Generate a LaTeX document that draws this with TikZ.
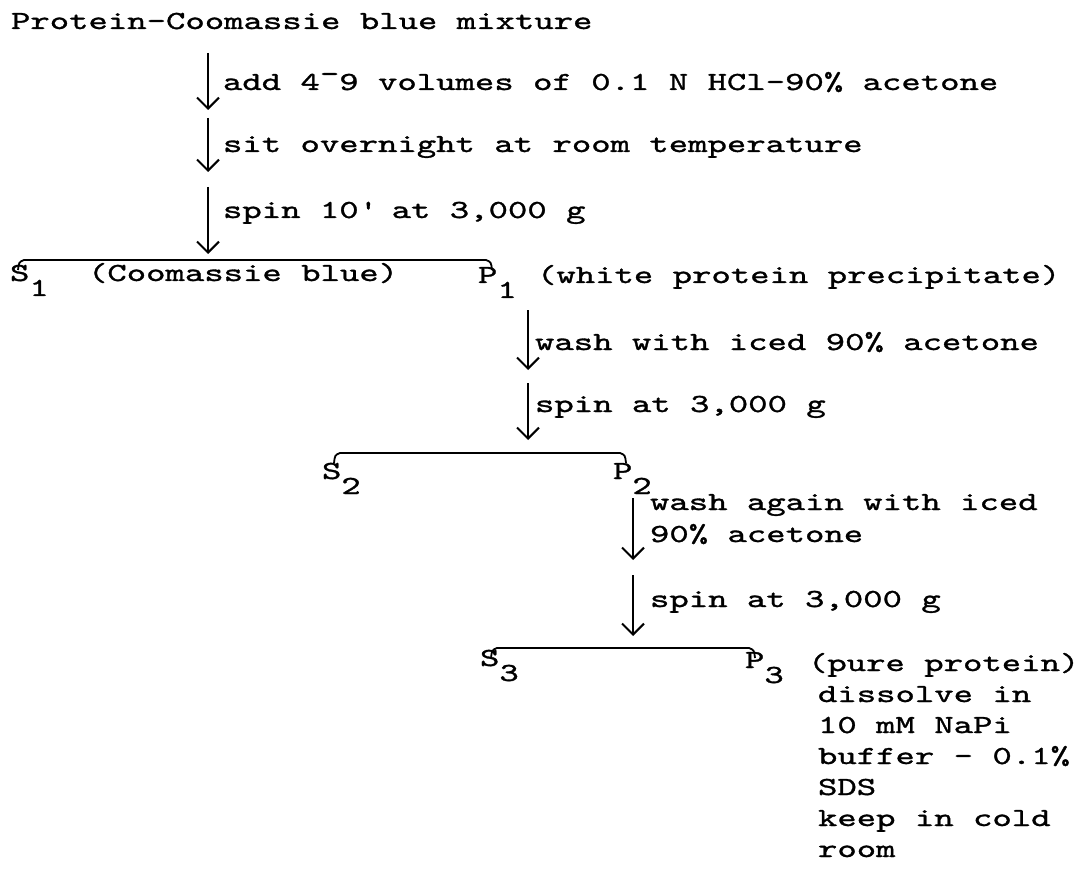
\documentclass[tikz,border=0pt]{standalone}
\usepackage{fontspec}
\newfontfamily\schreibm[FakeStretch=1.42,FakeBold=1.2]{lmmono10-regular.otf}
\usepackage{tikz}
\usetikzlibrary{arrows.meta}
\newcommand{\tief}[1]{\raisebox{-7.5pt}{#1}}
\begin{document}
\begin{tikzpicture}[x=0.5pt, y=-0.5pt,
				>={Straight Barb[length=5.5pt,width=11pt]},   %Pfeilspitzen
				txt/.style={anchor=base west, inner sep=0pt, outer sep=0pt},
				klammer/.style={line width=0.9pt},
				font=\schreibm\fontsize{13}{19}\selectfont, line width=1pt]
				%Bildbereich
				\useasboundingbox (0,0) rectangle (1090,871);
				% Texte
				\node[txt] (start) at (11,29) {Protein-Coomassie blue mixture};
				\node[txt] (add) at (223,90) {add 4\raisebox{4pt}{-}9 volumes of 0.1 N HCl-90\% acetone};
				\node[txt] (sit) at (223,152) {sit overnight at room temperature};
				\node[txt] (spina) at (223,218) {spin 10\textquotesingle{} at 3,000 g};
				\node[txt] (s1) at (10,281) {S\tief{1}};
				\node[txt] (cb) at (88,281) {(Coomassie blue)};
				\node[txt] (p1) at (478,283) {P\tief{1}};
				\node[txt] (wp) at (537,283) {(white protein precipitate)};
				\node[txt] (washa) at (535,350) {wash with iced 90\% acetone};
				\node[txt] (spinb) at (535,412) {spin at 3,000 g};
				\node[txt] (s2) at (322,479) {S\tief{2}};
				\node[txt] (p2) at (613,479) {P\tief{2}};
				\node[txt] (washb) at (650,510) {wash again with iced};
				\node[txt] (washc) at (650,542) {90\% acetone};
				\node[txt] (spinc) at (650,607) {spin at 3,000 g};
				\node[txt] (s3) at (480,666) {S\tief{3}};
				\node[txt] (p3) at (745,668) {P\tief{3}};
				\node[txt] (pp) at (808,671) {(pure protein)};
				% Liste unten rechts
				\foreach \n/\y/\t in {1/702/dissolve in, 2/733/10 mM NaPi, 3/764/buffer - 0.1\%,
						4/795/SDS, 5/826/keep in cold, 6/857/room}
					\node[txt] (rest\n) at (818,\y) {\t};
				% Pfeile zeichnen
				\foreach \n/\x/\ya/\yb in {1/208/53/110, 2/208/118/172, 3/208/187/254,
						4/528/310/370, 5/528/383/440, 6/633/498/560, 7/633/575/636}
				{
					\coordinate (a\n o) at (\x,\ya);
					\coordinate (a\n u) at (\x,\yb);
					\draw[->] (a\n o) -- (a\n u);
				}
				% Klammern zeichnen
				\foreach \n/\xa/\xb/\y in {1/22/488/260, 2/338/622/453, 3/495/751/648}
				{
					\coordinate (k\n l) at (\xa,\y);
					\coordinate (k\n r) at (\xb,\y);
					\draw[klammer] ([shift={(-4,10)}]k\n l) .. controls ([shift={(-3,2)}]k\n l) .. ([shift={(2,0)}]k\n l)
						-- ([shift={(-2,0)}]k\n r) .. controls ([shift={(3,2)}]k\n r) .. ([shift={(4,10)}]k\n r);
				}
			\end{tikzpicture}
\end{document}
